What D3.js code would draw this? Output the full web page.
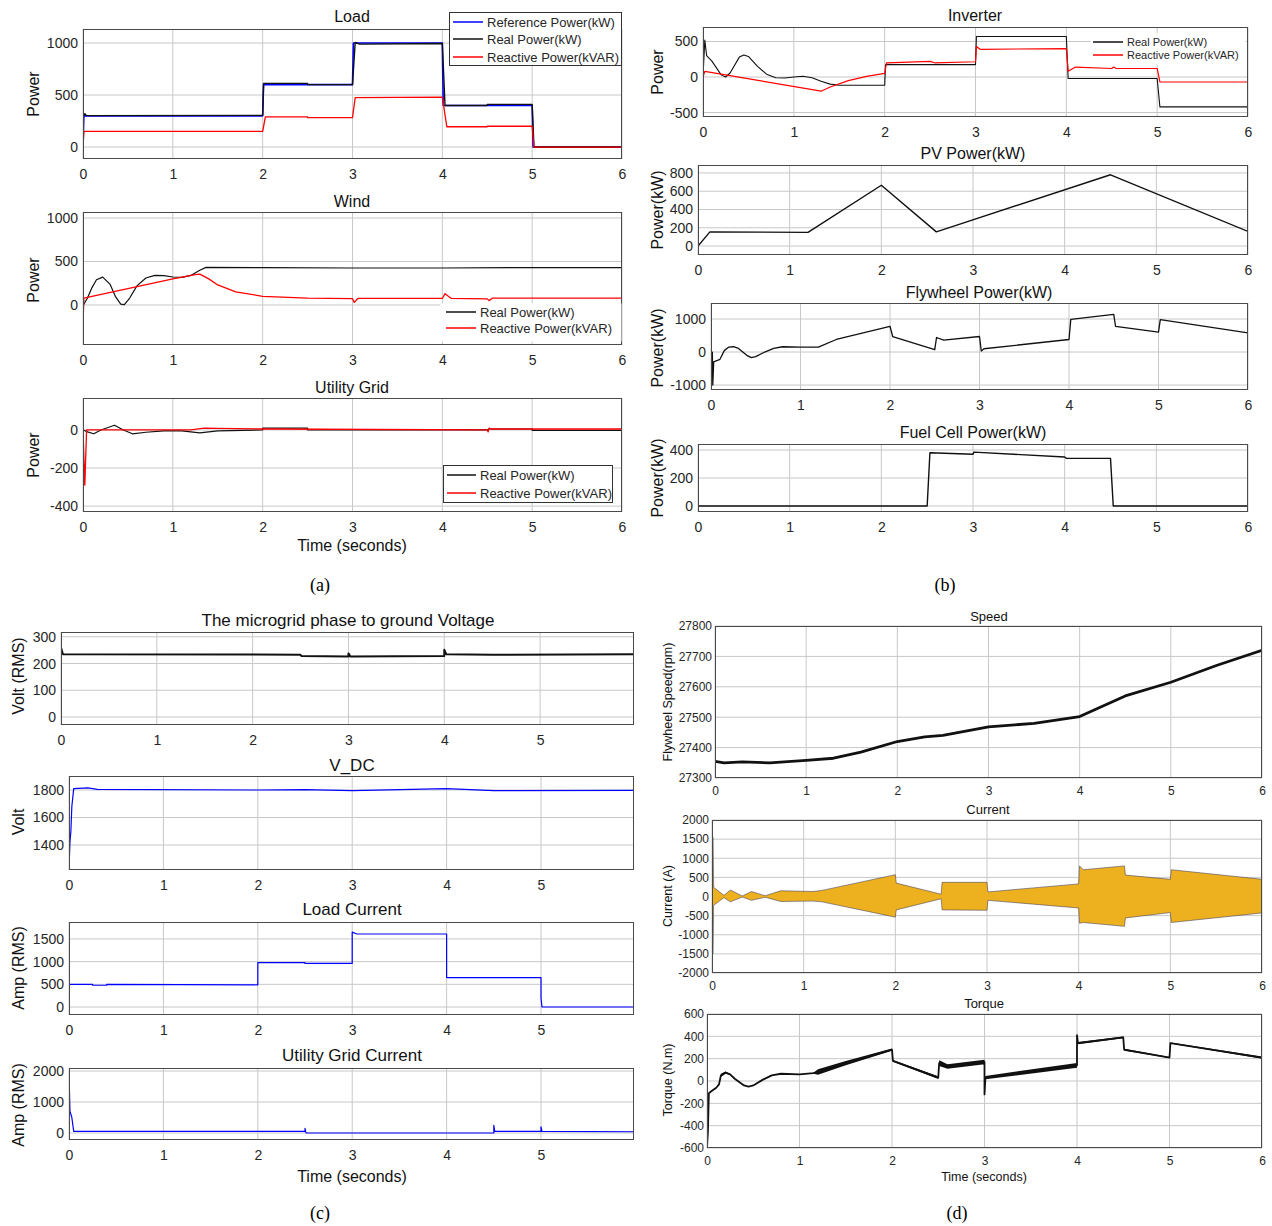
<!DOCTYPE html>
<html><head><meta charset="utf-8">
<script src="https://cdn.jsdelivr.net/npm/d3@7"></script>
<style>body{margin:0;background:#fff} svg{display:block}</style>
</head><body>
<svg id="c" width="1272" height="1226"></svg>
<script>
// ---------------- DATA ----------------
const timeTicks = [0,1,2,3,4,5,6];
const timeTicksC = [0,1,2,3,4,5];

// (a) Load
const loadRef = [[0,0],[0.01,300],[2,300],[2.01,600],[3,600],[3.01,1000],[4,1000],[4.01,400],[5,400],[5.01,0],[6,0]];
const loadReal = [[0,300],[0.02,320],[0.04,302],[2,305],[2.01,612],[2.5,612],[2.5,600],[3,600],[3.03,1005],[3.08,990],[4,995],[4.03,400],[4.5,400],[4.5,410],[5,410],[5.02,0],[6,0]];
const loadReactive = [[0,0],[0.01,150],[2,150],[2.03,290],[2.5,290],[2.5,282],[3,282],[3.03,475],[4,480],[4.05,195],[4.5,195],[4.5,200],[5,200],[5.02,0],[6,0]];
const loadTicksY = [0,500,1000];

// (a) Wind
const windReal = [[0,-430],[0.005,0],[0.05,80],[0.1,200],[0.15,290],[0.22,320],[0.3,240],[0.36,100],[0.42,10],[0.46,5],[0.52,80],[0.6,220],[0.7,310],[0.8,340],[0.9,338],[1.0,322],[1.1,318],[1.2,340],[1.3,400],[1.37,432],[2,430],[3,425],[4,425],[5,430],[6,430]];
const windReactive = [[0,-200],[0.01,80],[1.0,300],[1.25,350],[1.3,355],[1.4,300],[1.5,230],[1.7,150],[2.0,100],[2.5,80],[3.0,72],[3.02,30],[3.06,75],[4.0,75],[4.03,130],[4.1,75],[4.5,70],[4.52,50],[4.56,80],[6,80]];
const windTicksY = [0,500,1000];

// (a) Utility grid
const gridReal = [[0,0],[0.05,-10],[0.12,-20],[0.2,0],[0.35,25],[0.45,0],[0.55,-20],[0.7,-12],[0.9,-5],[1.1,-5],[1.3,-15],[1.5,-5],[2.0,0],[2.0,10],[2.5,10],[2.5,0],[4.5,0],[4.52,5],[5,5],[5,-2],[6,-2]];
const gridReactive = [[0,0],[0.02,-290],[0.04,0],[1.2,0],[1.35,10],[1.5,8],[2,5],[4.5,0],[4.51,-10],[4.52,10],[4.55,5],[6,5]];
const gridTicksY = [-400,-200,0];

// (b) Inverter
const invReal = [[0,0],[0.02,520],[0.04,300],[0.1,220],[0.2,30],[0.25,0],[0.3,60],[0.4,280],[0.45,310],[0.5,290],[0.6,150],[0.7,40],[0.8,-10],[0.9,-15],[1.0,0],[1.1,10],[1.2,-10],[1.3,-60],[1.4,-100],[1.5,-115],[2,-115],[2.01,175],[3,175],[3.01,570],[4,570],[4.02,-20],[5,-20],[5.03,-420],[6,-420]];
const invReactive = [[0,0],[0.02,80],[1.3,-200],[1.4,-140],[1.6,-50],[1.8,10],[2,50],[2.02,200],[2.5,220],[2.55,200],[3,215],[3.01,430],[3.05,390],[4,400],[4.02,80],[4.1,140],[4.5,120],[4.52,140],[4.55,120],[5,120],[5.03,-70],[6,-70]];
const invTicksY = [-500,0,500];

// (b) PV
const pvPower = [[0,0],[0.13,155],[1.2,150],[2.0,665],[2.6,155],[4.5,780],[6,160]];
const pvTicksY = [0,200,400,600,800];

// (b) Flywheel
const flyPower = [[0,0],[0.015,0],[0.02,-1000],[0.03,-300],[0.1,-220],[0.15,50],[0.2,150],[0.25,160],[0.3,120],[0.4,-100],[0.45,-170],[0.5,-140],[0.6,0],[0.7,110],[0.8,160],[1,150],[1.2,150],[1.4,380],[2,780],[2.03,470],[2.5,70],[2.52,440],[2.6,360],[3,470],[3.02,30],[3.05,100],[4,380],[4.02,990],[4.5,1140],[4.52,780],[5,600],[5.02,980],[6,580]];
const flyTicksY = [-1000,0,1000];

// (b) Fuel cell
const fuelPower = [[0,0],[2.5,0],[2.53,380],[3,370],[3.01,385],[4,350],[4.02,340],[4.5,340],[4.53,0],[6,0]];
const fuelTicksY = [0,200,400];

// (c) Microgrid voltage
const gridVoltage = [[0,260],[0.02,235],[2.5,233],[2.51,228],[3,226],[3,238],[3.02,226],[4,228],[4,252],[4.02,235],[4.5,233],[6,235]];
const voltTicksY = [0,100,200,300];

// (c) V_DC
const vdc = [[0,1220],[0.01,1420],[0.02,1500],[0.03,1680],[0.05,1810],[0.2,1815],[0.3,1805],[2.0,1800],[2.5,1803],[3,1795],[4,1810],[4.5,1795],[6,1797]];
const vdcTicksY = [1400,1600,1800];

// (c) Load current
const loadCurrent = [[0,500],[0.25,500],[0.25,480],[0.4,480],[0.4,500],[2,490],[2.0,980],[2.5,980],[2.5,960],[3,960],[3.0,1650],[3.05,1610],[4,1610],[4,650],[5,650],[5.0,200],[5.01,0],[6,0]];
const loadCurTicksY = [0,500,1000,1500];

// (c) Utility grid current
const gridCurrent = [[0,2000],[0.01,700],[0.03,500],[0.05,50],[2.5,50],[2.5,150],[2.51,0],[4.5,0],[4.5,250],[4.51,50],[5,50],[5,200],[5.01,50],[6,40]];
const gridCurTicksY = [0,1000,2000];

// (d) Speed
const flySpeed = [[0,27355],[0.1,27350],[0.3,27353],[0.6,27350],[1,27358],[1.3,27365],[1.6,27385],[2,27420],[2.3,27435],[2.5,27440],[3,27468],[3.5,27480],[4,27502],[4.5,27570],[5,27615],[5.5,27670],[6,27720]];
const speedTicksY = [27300,27400,27500,27600,27700,27800];

// (d) Current envelope [t, upper, lower]
const curEnvelope = [[0,1550,-1500],[0.012,1550,-1500],[0.018,240,-230],[0.13,30,-30],[0.2,170,-140],[0.33,15,-15],[0.43,130,-100],[0.58,20,-20],[0.75,150,-130],[1.1,130,-120],[1.2,160,-140],[2.0,570,-540],[2.01,350,-350],[2.5,60,-60],[2.51,370,-350],[3.0,370,-360],[3.01,120,-100],[4.0,330,-300],[4.01,800,-700],[4.05,700,-680],[4.5,800,-780],[4.51,560,-560],[5.0,450,-420],[5.01,700,-680],[6.0,450,-430]];
const curTicksY = [-2000,-1500,-1000,-500,0,500,1000,1500,2000];

// (d) Torque [t, value, ripple]
const torque = [[0,-600,0],[0.01,-450,0],[0.02,-110,0],[0.05,-90,0],[0.1,-60,0],[0.13,-30,0],[0.15,50,15],[0.2,75,10],[0.25,60,5],[0.3,20,0],[0.4,-40,0],[0.45,-50,0],[0.5,-40,0],[0.6,10,0],[0.7,50,0],[0.8,65,0],[1,60,0],[1.15,70,5],[1.2,80,25],[1.5,160,20],[2,280,10],[2.01,180,8],[2.5,30,12],[2.51,160,25],[2.6,130,20],[3,170,20],[3.0,-120,0],[3.01,30,15],[4,140,22],[4.0,410,0],[4.01,340,10],[4.5,390,8],[4.51,280,8],[5,210,5],[5.01,340,5],[6,210,10]];
const torqueTicksY = [-600,-400,-200,0,200,400,600];

// ---------------- DRAW ----------------
const svg = d3.select('#c');
const SANS = "'Liberation Sans', Arial, Helvetica, sans-serif";
const SERIF = "'Liberation Serif', 'Times New Roman', serif";
let clipN = 0;

function panel(cfg) {
  const x = d3.scaleLinear().domain(cfg.xd || [0,6]).range([cfg.x0, cfg.x1]);
  const y = d3.scaleLinear().domain(cfg.yd).range([cfg.y1, cfg.y0]);
  const fs = cfg.fs || 14;
  const g = svg.append('g');
  const id = 'clip' + (clipN++);
  svg.append('clipPath').attr('id', id).append('rect')
    .attr('x', cfg.x0).attr('y', cfg.y0).attr('width', cfg.x1 - cfg.x0).attr('height', cfg.y1 - cfg.y0);
  g.append('rect').attr('x', cfg.x0).attr('y', cfg.y0).attr('width', cfg.x1 - cfg.x0).attr('height', cfg.y1 - cfg.y0).attr('fill', '#fff');
  g.append('g').selectAll('line').data(cfg.xt).join('line')
    .attr('x1', d => x(d)).attr('x2', d => x(d)).attr('y1', cfg.y0).attr('y2', cfg.y1)
    .attr('stroke', '#c8c8c8').attr('stroke-width', 1);
  g.append('g').selectAll('line').data(cfg.yt).join('line')
    .attr('y1', d => y(d)).attr('y2', d => y(d)).attr('x1', cfg.x0).attr('x2', cfg.x1)
    .attr('stroke', '#c8c8c8').attr('stroke-width', 1);
  const pg = g.append('g').attr('clip-path', `url(#${id})`);
  (cfg.bands || []).forEach(b => {
    pg.append('path').datum(b.data)
      .attr('d', d3.area().x(d => x(d[0])).y0(d => y(d[b.lo])).y1(d => y(d[b.hi])))
      .attr('fill', b.color).attr('stroke', b.stroke || 'none').attr('stroke-width', b.sw || 0.6);
  });
  (cfg.series || []).forEach(s => {
    pg.append('path').datum(s.data)
      .attr('d', d3.line().x(d => x(d[0])).y(d => y(d[1])))
      .attr('fill', 'none').attr('stroke', s.color).attr('stroke-width', s.w || 1.2)
      .attr('stroke-linejoin', 'round');
  });
  g.append('rect').attr('x', cfg.x0 + 0.5).attr('y', cfg.y0 + 0.5)
    .attr('width', cfg.x1 - cfg.x0 - 1).attr('height', cfg.y1 - cfg.y0 - 1)
    .attr('fill', 'none').attr('stroke', '#4a4a4a').attr('stroke-width', 1);
  const xa = g.append('g').attr('transform', `translate(0,${cfg.y1})`)
    .call(d3.axisBottom(x).tickValues(cfg.xt).tickSize(0).tickPadding(cfg.xpad || 10).tickFormat(d => String(d)));
  xa.select('.domain').remove();
  xa.selectAll('text').attr('font-size', fs).attr('font-family', SANS).attr('fill', '#262626');
  const ya = g.append('g').attr('transform', `translate(${cfg.x0},0)`)
    .call(d3.axisLeft(y).tickValues(cfg.yt).tickSize(0).tickPadding(cfg.ypad || 5).tickFormat(d => String(d)));
  ya.select('.domain').remove();
  ya.selectAll('text').attr('font-size', fs).attr('font-family', SANS).attr('fill', '#262626');
  if (cfg.title) {
    g.append('text').attr('x', cfg.title[1]).attr('y', cfg.title[2]).attr('text-anchor', 'middle')
      .attr('dominant-baseline', 'central').attr('font-family', SANS).attr('font-size', cfg.tfs || 16)
      .attr('fill', '#111').text(cfg.title[0]);
  }
  if (cfg.ylabel) {
    g.append('text').attr('transform', `translate(${cfg.ylabel[1]},${cfg.ylabel[2]}) rotate(-90)`)
      .attr('text-anchor', 'middle').attr('dominant-baseline', 'central')
      .attr('font-family', SANS).attr('font-size', cfg.lfs || 16).attr('fill', '#111').text(cfg.ylabel[0]);
  }
  if (cfg.xlabel) {
    g.append('text').attr('x', cfg.xlabel[1]).attr('y', cfg.xlabel[2]).attr('text-anchor', 'middle')
      .attr('dominant-baseline', 'central').attr('font-family', SANS).attr('font-size', cfg.lfs || 16)
      .attr('fill', '#111').text(cfg.xlabel[0]);
  }
  if (cfg.legend) {
    const L = cfg.legend;
    g.append('rect').attr('x', L.x + 0.5).attr('y', L.y + 0.5).attr('width', L.w).attr('height', L.h)
      .attr('fill', '#fff').attr('stroke', L.border ? '#333' : 'none').attr('stroke-width', 1);
    L.items.forEach((it, i) => {
      const yy = L.rows[i];
      g.append('line').attr('x1', L.lx0).attr('x2', L.lx1).attr('y1', yy).attr('y2', yy)
        .attr('stroke', it.color).attr('stroke-width', 1.5);
      g.append('text').attr('x', L.tx).attr('y', yy).attr('dominant-baseline', 'central')
        .attr('font-family', SANS).attr('font-size', L.fs).attr('fill', '#262626').text(it.label);
    });
  }
}

function caption(t, x, y) {
  svg.append('text').attr('x', x).attr('y', y).attr('text-anchor', 'middle').attr('dominant-baseline', 'central')
    .attr('font-family', SERIF).attr('font-size', 18).attr('fill', '#000').text(t);
}

const BLUE = '#0000ff', BLACK = '#111', RED = '#ff0000', ORANGE = '#EDB120';

// (a)
panel({x0:83,x1:622,y0:29,y1:159,yd:[-115,1135],xt:timeTicks,yt:loadTicksY,title:['Load',352,16],ylabel:['Power',33,94],
  series:[{data:loadRef,color:BLUE,w:1.6},{data:loadReal,color:BLACK,w:1.4},{data:loadReactive,color:RED,w:1.3}],
  legend:{x:449,y:12,w:172,h:53,border:true,rows:[22,39,57],lx0:453,lx1:483,tx:487,fs:13,
    items:[{label:'Reference Power(kW)',color:BLUE},{label:'Real Power(kW)',color:BLACK},{label:'Reactive Power(kVAR)',color:RED}]}});
panel({x0:83,x1:622,y0:212,y1:345,yd:[-460,1069],xt:timeTicks,yt:windTicksY,title:['Wind',352,201],ylabel:['Power',33,280],
  series:[{data:windReal,color:BLACK,w:1.2},{data:windReactive,color:RED,w:1.3}],
  legend:{x:440,y:303,w:181,h:38,border:false,rows:[312,328],lx0:446,lx1:476,tx:480,fs:13,
    items:[{label:'Real Power(kW)',color:BLACK},{label:'Reactive Power(kVAR)',color:RED}]}});
panel({x0:83,x1:622,y0:398,y1:512,yd:[-431,168],xt:timeTicks,yt:gridTicksY,title:['Utility Grid',352,387],ylabel:['Power',33,455],
  xlabel:['Time (seconds)',352,545],
  series:[{data:gridReal,color:BLACK,w:1.2},{data:gridReactive,color:RED,w:1.3}],
  legend:{x:443,y:465,w:169,h:37,border:true,rows:[475,493],lx0:447,lx1:476,tx:480,fs:13,
    items:[{label:'Real Power(kW)',color:BLACK},{label:'Reactive Power(kVAR)',color:RED}]}});
caption('(a)', 320, 585);

// (b)
panel({x0:703,x1:1248,y0:27,y1:117,yd:[-563,704],xt:timeTicks,yt:invTicksY,title:['Inverter',975,15],ylabel:['Power',657,72],
  series:[{data:invReal,color:BLACK,w:1.1},{data:invReactive,color:RED,w:1.2}],
  legend:{x:1090,y:33,w:155,h:31,border:false,rows:[42,55],lx0:1093,lx1:1123,tx:1127,fs:11,
    items:[{label:'Real Power(kW)',color:BLACK},{label:'Reactive Power(kVAR)',color:RED}]}});
panel({x0:698,x1:1248,y0:165,y1:255,yd:[-98,887],xt:timeTicks,yt:pvTicksY,title:['PV Power(kW)',973,153],ylabel:['Power(kW)',657,210],
  series:[{data:pvPower,color:BLACK,w:1.4}]});
panel({x0:711,x1:1248,y0:303,y1:390,yd:[-1150,1485],xt:timeTicks,yt:flyTicksY,title:['Flywheel Power(kW)',979,292],ylabel:['Power(kW)',657,348],
  series:[{data:flyPower,color:BLACK,w:1.3}]});
panel({x0:698,x1:1248,y0:444,y1:512,yd:[-43,443],xt:timeTicks,yt:fuelTicksY,title:['Fuel Cell Power(kW)',973,432],ylabel:['Power(kW)',657,478],
  series:[{data:fuelPower,color:BLACK,w:1.4}]});
caption('(b)', 945, 585);

// (c)
panel({x0:61,x1:634,y0:632,y1:725,xd:[0,5.98],yd:[-30,318],xt:timeTicksC,yt:voltTicksY,title:['The microgrid phase to ground Voltage',348,620],tfs:17,
  ylabel:['Volt (RMS)',18,676],series:[{data:gridVoltage,color:BLACK,w:2}]});
panel({x0:69,x1:634,y0:776,y1:870,xd:[0,5.985],yd:[1218,1902],xt:timeTicksC,yt:vdcTicksY,title:['V_DC',352,765],tfs:17,
  ylabel:['Volt',18,822],series:[{data:vdc,color:BLUE,w:1.2}]});
panel({x0:69,x1:634,y0:922,y1:1015,xd:[0,5.985],yd:[-176,1874],xt:timeTicksC,yt:loadCurTicksY,title:['Load Current',352,909],tfs:17,
  ylabel:['Amp (RMS)',18,968],series:[{data:loadCurrent,color:BLUE,w:1.2}]});
panel({x0:69,x1:634,y0:1068,y1:1140,xd:[0,5.985],yd:[-226,2097],xt:timeTicksC,yt:gridCurTicksY,title:['Utility Grid Current',352,1055],tfs:17,
  ylabel:['Amp (RMS)',18,1105],xlabel:['Time (seconds)',352,1176],series:[{data:gridCurrent,color:BLUE,w:1.2}]});
caption('(c)', 320, 1213);

// (d)
panel({x0:715,x1:1262,y0:626,y1:778,yd:[27300,27800],xt:timeTicks,yt:speedTicksY,fs:12,xpad:8,ypad:3,title:['Speed',989,616],tfs:13,
  ylabel:['Flywheel Speed(rpm)',668,702],lfs:12.5,series:[{data:flySpeed,color:BLACK,w:2.8}]});
panel({x0:712,x1:1262,y0:820,y1:973,yd:[-2000,2000],xt:timeTicks,yt:curTicksY,fs:12,xpad:8,ypad:3,title:['Current',988,809],tfs:13,
  ylabel:['Current (A)',668,896],lfs:12.5,bands:[{data:curEnvelope,lo:2,hi:1,color:ORANGE,stroke:'#2b2b55',sw:0.5}]});
panel({x0:707,x1:1262,y0:1014,y1:1148,yd:[-600,600],xt:timeTicks,yt:torqueTicksY,fs:12,xpad:8,ypad:3,title:['Torque',984,1003],tfs:13,
  ylabel:['Torque (N.m)',668,1080],lfs:12.5,xlabel:['Time (seconds)',984,1177],
  bands:[{data:torque.map(d => [d[0], d[1] - d[2], d[1] + d[2]]),lo:1,hi:2,color:BLACK}],
  series:[{data:torque,color:BLACK,w:1.8}]});
caption('(d)', 957, 1213);
</script>
</body></html>
